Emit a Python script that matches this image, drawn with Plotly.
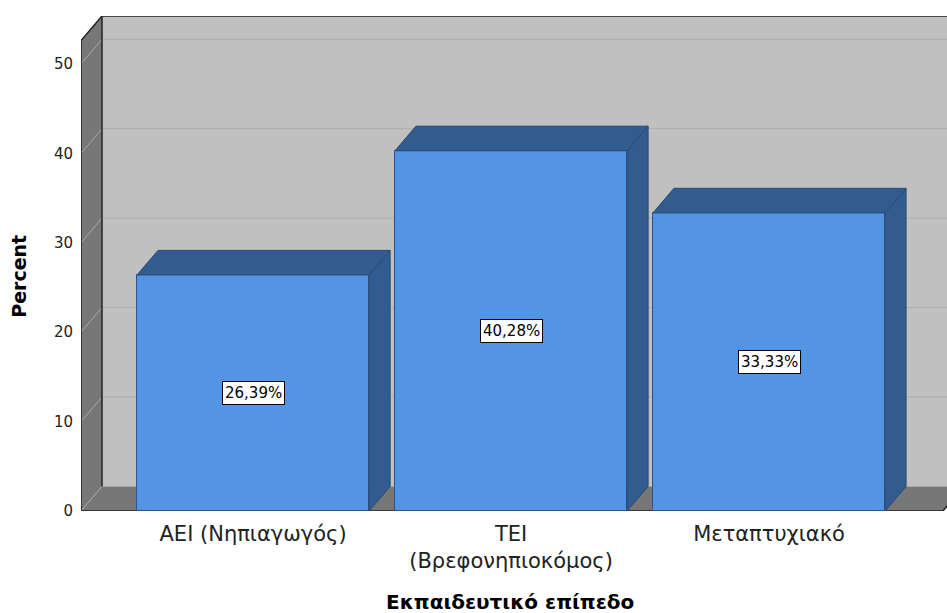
import plotly.graph_objects as go

categories = ["ΑΕΙ (Νηπιαγωγός)", "ΤΕΙ<br>(Βρεφονηπιοκόμος)", "Μεταπτυχιακό"]
percent = [26.39, 40.28, 33.33]
labels = ["26,39%", "40,28%", "33,33%"]
y_ticks = [0, 10, 20, 30, 40, 50]

FONT = "DejaVu Sans, Verdana, sans-serif"
FRONT = "#5494E4"
DARK = "#335C8E"
WALL = "#C0C0C0"
SIDEWALL = "#777777"

XL, XR = -0.667, 2.674      # front floor extents (x units)
XMAX = 2.69                 # right edge of plot
YTOP = 52.6                 # top of front wall
DX, DY = 0.0814, 2.75       # 3D depth offset in data units
BW = 0.45                   # half bar width
XBR = XR + DX + 0.2         # back wall runs past the right edge

fig = go.Figure()


def path(pts):
    return "M " + " L ".join(f"{x},{y}" for x, y in pts) + " Z"


def shape_poly(pts, fill, line_color=None, lw=0):
    fig.add_shape(type="path", path=path(pts), xref="x", yref="y",
                  fillcolor=fill, line=dict(color=line_color or fill, width=lw),
                  layer="below")


def shape_line(x0, y0, x1, y1, color, w=1):
    fig.add_shape(type="line", x0=x0, y0=y0, x1=x1, y1=y1, xref="x", yref="y",
                  line=dict(color=color, width=w), layer="below")


# back wall, floor, left wall
shape_poly([(XL + DX, DY), (XBR, DY), (XBR, YTOP + DY), (XL + DX, YTOP + DY)], WALL)
shape_poly([(XL, 0), (XR, 0), (XR + DX, DY), (XL + DX, DY)], SIDEWALL)
shape_poly([(XL, 0), (XL, YTOP), (XL + DX, YTOP + DY), (XL + DX, DY)], SIDEWALL)

# gridlines
for v in y_ticks[1:]:
    shape_line(XL + DX, v + DY, XBR, v + DY, "#ADADAD", 1)
    shape_line(XL, v, XL + DX, v + DY, "#A8A8A8", 1)
shape_line(XL, 0, XL + DX, DY, "#A8A8A8", 1)

# wall outlines
shape_line(XL, 0, XL, YTOP, "#222222", 1.5)
shape_line(XL, YTOP, XL + DX, YTOP + DY, "#222222", 1.5)
shape_line(XL + DX, YTOP + DY, XBR, YTOP + DY, "#222222", 1.5)
shape_line(XL + DX, DY, XL + DX, YTOP + DY, "#222222", 1.5)
shape_line(XL, 0, XR, 0, "#222222", 1.5)
shape_line(XR, 0, XR + DX, DY, "#222222", 1.5)

# bars: front faces
fig.add_trace(go.Bar(
    x=list(range(len(categories))), y=percent, width=2 * BW,
    marker=dict(color=FRONT, line=dict(color="#2F5386", width=1)),
    hoverinfo="skip", showlegend=False))

# bars: side and top faces (3D depth)
for i, v in enumerate(percent):
    x0, x1 = i - BW, i + BW
    for xs, ys in (([x1, x1, x1 + DX, x1 + DX, x1], [0, v, v + DY, DY, 0]),
                   ([x0, x1, x1 + DX, x0 + DX, x0], [v, v, v + DY, v + DY, v])):
        fig.add_trace(go.Scatter(x=xs, y=ys, mode="lines", fill="toself",
                                 fillcolor=DARK,
                                 line=dict(color="#2A4A75", width=1),
                                 hoverinfo="skip", showlegend=False))

# value labels
for i, (v, t) in enumerate(zip(percent, labels)):
    fig.add_annotation(x=i, y=v / 2, text=t, showarrow=False,
                       font=dict(family=FONT, size=15, color="#000000"),
                       bgcolor="#FFFFFF", bordercolor="#000000",
                       borderwidth=1, borderpad=2)

# axis titles
fig.add_annotation(xref="paper", yref="paper", x=(510 - 81) / 866, y=-(603 - 511.5) / 495.5,
                   text="<b>Εκπαιδευτικό επίπεδο</b>", showarrow=False,
                   font=dict(family=FONT, size=20, color="#000000"),
                   xanchor="center", yanchor="middle")
fig.add_annotation(xref="paper", yref="paper", x=-(81 - 19) / 866, y=(511.5 - 277) / 495.5,
                   text="<b>Percent</b>", showarrow=False, textangle=-90,
                   font=dict(family=FONT, size=19, color="#000000"),
                   xanchor="center", yanchor="middle")

fig.update_layout(
    width=947, height=613,
    margin=dict(l=81, r=0, t=16, b=101.5),
    paper_bgcolor="white", plot_bgcolor="white",
    bargap=0,
    xaxis=dict(range=[XL, XMAX], tickvals=list(range(len(categories))),
               ticktext=categories, showgrid=False, zeroline=False,
               showline=False, ticks="", ticklabelstandoff=8,
               tickfont=dict(family=FONT, size=21, color="#222222")),
    yaxis=dict(range=[0, YTOP + DY], tickvals=y_ticks,
               ticktext=[str(t) for t in y_ticks],
               showgrid=False, zeroline=False, showline=False, ticks="",
               ticklabelstandoff=7,
               tickfont=dict(family=FONT, size=15, color="#222222")),
)

fig.write_html("out.html")
